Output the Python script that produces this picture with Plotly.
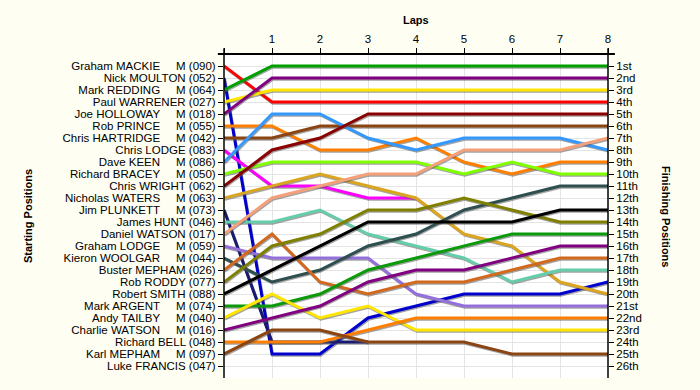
import plotly.graph_objects as go

laps = [0, 1, 2, 3, 4, 5, 6, 7, 8]

riders = ["Graham MACKIE", "Nick MOULTON", "Mark REDDING", "Paul WARRENER", "Joe HOLLOWAY",
          "Rob PRINCE", "Chris HARTRIDGE", "Chris LODGE", "Dave KEEN", "Richard BRACEY",
          "Chris WRIGHT", "Nicholas WATERS", "Jim PLUNKETT", "James HUNT", "Daniel WATSON",
          "Graham LODGE", "Kieron WOOLGAR", "Buster MEPHAM", "Rob RODDY", "Robert SMITH",
          "Mark ARGENT", "Andy TAILBY", "Charlie WATSON", "Richard BELL", "Karl MEPHAM",
          "Luke FRANCIS"]
masters = [True, False, True, False, True, True, True, False, True, True,
           False, True, True, False, False, True, True, False, False, False,
           True, True, True, False, True, False]
numbers = ["090", "052", "064", "027", "018", "055", "042", "083", "086", "050",
           "062", "063", "073", "046", "017", "059", "044", "026", "077", "088",
           "074", "040", "016", "048", "097", "047"]

# position of each rider at the end of each lap (lap 0 = grid)
positions = [
    [1, 4, 4, 4, 4, 4, 4, 4, 4],
    [2, 25, 25, 22, 21, 20, 20, 20, 19],
    [3, 1, 1, 1, 1, 1, 1, 1, 1],
    [4, 3, 3, 3, 3, 3, 3, 3, 3],
    [5, 2, 2, 2, 2, 2, 2, 2, 2],
    [6, 6, 8, 8, 7, 9, 10, 9, 9],
    [7, 7, 6, 6, 6, 6, 6, 6, 6],
    [8, 11, 11, 12, 12],
    [9, 5, 5, 7, 8, 7, 7, 7, 8],
    [10, 9, 9, 9, 9, 10, 9, 10, 10],
    [11, 8, 7, 5, 5, 5, 5, 5, 5],
    [12, 11, 10, 11, 12, 15, 16, 19, 20],
    [13, 24, 24, 24],
    [14, 14, 13, 15, 16, 17, 19, 18, 18],
    [15, 12, 11, 10, 10, 8, 8, 8, 7],
    [16, 17, 17, 17, 20, 21, 21, 21, 21],
    [17, 19, 18, 16, 15, 13, 12, 11, 11],
    [18, 15, 19, 20, 19, 19, 18, 17, 17],
    [19, 16, 15, 13, 13, 12, 13, 14, 14],
    [20, 18, 16, 14, 14, 14, 14, 13, 13],
    [21, 21, 20, 18, 17, 16, 15, 15, 15],
    [22, 20, 22, 21, 23, 23, 23, 23, 23],
    [23, 22, 21, 19, 18, 18, 17, 16, 16],
    [24, 24, 24, 23, 22, 22, 22, 22, 22],
    [25, 23, 23, 24, 24, 24, 25, 25, 25],
    [],
]

colors = ["#FF0000", "#0000CD", "#00A000", "#FFE600", "#800080",
          "#FF8000", "#8B4513", "#FF00FF", "#3399FF", "#80FF00",
          "#8B0000", "#DAA520", "#191970", "#66CDAA", "#F4A07A",
          "#9370DB", "#2F4F4F", "#D2691E", "#808000", "#000000",
          "#0A9A0A", "#FFE600", "#800080", "#FF8000", "#8B4513",
          "#888888"]

finish_labels = ["1st", "2nd", "3rd"] + [f"{i}th" for i in range(4, 21)] + \
                ["21st", "22nd", "23rd", "24th", "25th", "26th"]

start_labels = []
for name, m, num in zip(riders, masters, numbers):
    if m:
        start_labels.append(name + "\u00a0" * 5 + "M (" + num + ")")
    else:
        start_labels.append(name + " (" + num + ")")

fig = go.Figure()
SHADOW = 0.1
for name, pos, col in zip(riders, positions, colors):
    if not pos:
        continue
    xs = laps[:len(pos)]
    fig.add_trace(go.Scatter(x=[x + 0.015 for x in xs], y=[p + SHADOW for p in pos], mode="lines",
                             line=dict(color="rgba(90,90,90,0.55)", width=3),
                             hoverinfo="skip", showlegend=False))
    fig.add_trace(go.Scatter(x=xs, y=pos, mode="lines", name=name,
                             line=dict(color=col, width=3), showlegend=False))

npos = len(riders)
fig.add_trace(go.Scatter(x=[0], y=[1], yaxis="y2", mode="markers",
                         marker=dict(opacity=0), hoverinfo="skip", showlegend=False))

font = dict(family="Liberation Sans, Arial, sans-serif", size=11.5, color="#000000")
tfont = dict(family="Liberation Sans, Arial, sans-serif", size=11, color="#000000")
fig.update_layout(
    width=700, height=390,
    margin=dict(l=224, r=92, t=54, b=12, pad=0, autoexpand=False),
    paper_bgcolor="#FEFEF2",
    plot_bgcolor="#FFFFFF",
    font=font,
    xaxis=dict(side="top", range=[0, 8], tickvals=laps, ticktext=[""] + [str(l) for l in laps[1:]],
               showgrid=True, gridcolor="#E4E4E4", gridwidth=1, zeroline=False,
               ticks="outside", ticklen=5, tickcolor="#000000", showline=False,
               tickfont=font, automargin=False),
    yaxis=dict(range=[npos + 1, 0], tickvals=list(range(1, npos + 1)), ticktext=start_labels,
               showgrid=True, gridcolor="#E4E4E4", gridwidth=1, zeroline=False,
               ticks="outside", ticklen=5, tickcolor="#000000", showline=False,
               tickfont=font, automargin=False),
    yaxis2=dict(range=[npos + 1, 0], tickvals=list(range(1, npos + 1)), ticktext=finish_labels,
                overlaying="y", side="right", showgrid=False, zeroline=False,
                ticks="outside", ticklen=5, tickcolor="#000000", showline=False,
                tickfont=font, automargin=False),
    shapes=[
        dict(type="line", xref="paper", yref="paper", x0=-0.016, x1=1.018, y0=1.0, y1=1.0,
             line=dict(color="#000000", width=2)),
        dict(type="line", xref="paper", yref="paper", x0=0, x1=0, y0=0, y1=1.018,
             line=dict(color="#000000", width=1.5)),
        dict(type="line", xref="paper", yref="paper", x0=1, x1=1, y0=0, y1=1.018,
             line=dict(color="#000000", width=1.5)),
    ],
    annotations=[
        dict(text="<b>Laps</b>", xref="paper", yref="paper", x=0.5, y=1.0, yshift=34,
             showarrow=False, font=tfont, xanchor="center", yanchor="middle"),
        dict(text="<b>Starting Positions</b>", xref="paper", yref="paper", x=0, y=0.5,
             xshift=-196, textangle=-90, showarrow=False, font=tfont,
             xanchor="center", yanchor="middle"),
        dict(text="<b>Finishing Positions</b>", xref="paper", yref="paper", x=1, y=0.5,
             xshift=58, textangle=90, showarrow=False, font=tfont,
             xanchor="center", yanchor="middle"),
    ],
)

fig.write_html("out.html", config={"displayModeBar": False},
               post_script="document.body.style.margin='0';document.body.style.background='#FEFEF2';")
